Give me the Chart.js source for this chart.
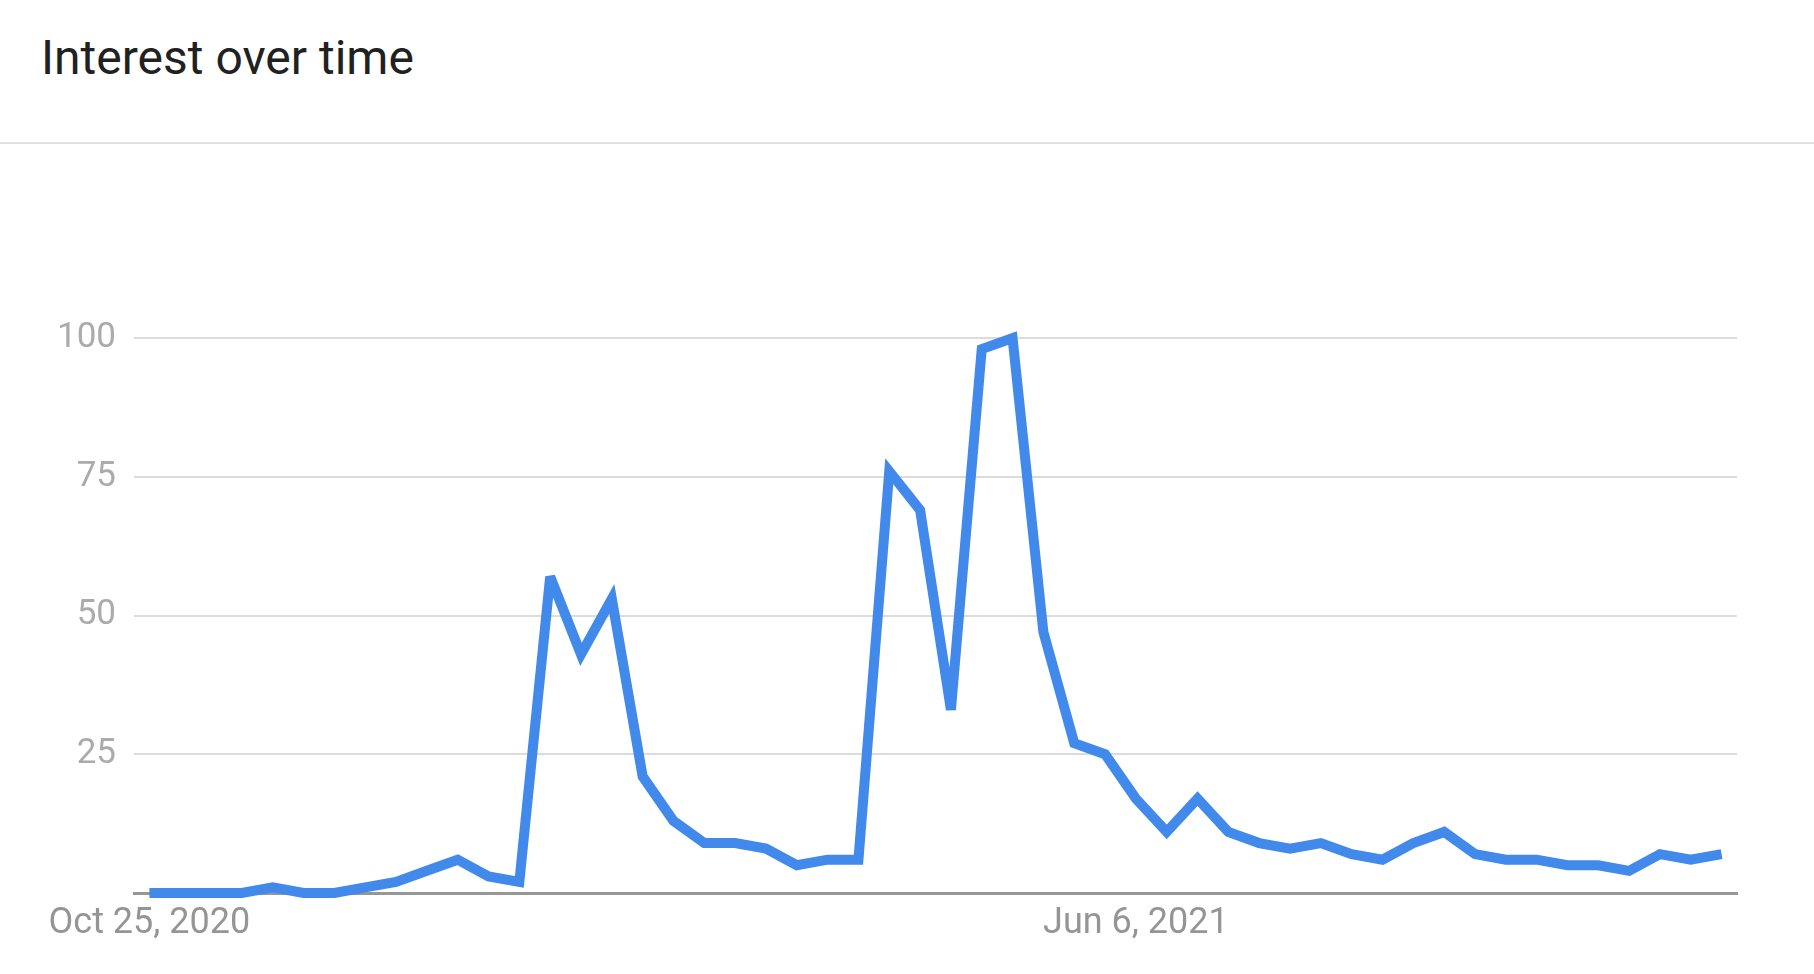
<!DOCTYPE html>
<html>
<head>
<meta charset="utf-8">
<title>Interest over time</title>
<script src="https://cdn.jsdelivr.net/npm/chart.js@4.4.1/dist/chart.umd.min.js"></script>
<style>
  html, body {
    margin: 0;
    padding: 0;
    background: #ffffff;
    width: 1814px;
    height: 974px;
    overflow: hidden;
    font-family: Roboto, "Noto Sans", Arial, sans-serif;
  }
  .header {
    position: relative;
    height: 142px;
    border-bottom: 2px solid #e0e0e0;
  }
  .header h1 {
    position: absolute;
    left: 41px;
    top: 29px;
    margin: 0;
    font-size: 48px;
    font-weight: 400;
    line-height: normal;
    color: #212121;
  }
  .chart-box {
    position: relative;
    width: 1814px;
    height: 830px;
  }
</style>
</head>
<body>
<div class="header"><h1>Interest over time</h1></div>
<div class="chart-box"><canvas id="chart"></canvas></div>

<script>
// weekly points, Oct 25, 2020 .. Oct 17, 2021
const weeks = [
  "Oct 25, 2020", "Nov 1, 2020", "Nov 8, 2020", "Nov 15, 2020", "Nov 22, 2020", "Nov 29, 2020",
  "Dec 6, 2020", "Dec 13, 2020", "Dec 20, 2020", "Dec 27, 2020", "Jan 3, 2021", "Jan 10, 2021",
  "Jan 17, 2021", "Jan 24, 2021", "Jan 31, 2021", "Feb 7, 2021", "Feb 14, 2021", "Feb 21, 2021",
  "Feb 28, 2021", "Mar 7, 2021", "Mar 14, 2021", "Mar 21, 2021", "Mar 28, 2021", "Apr 4, 2021",
  "Apr 11, 2021", "Apr 18, 2021", "Apr 25, 2021", "May 2, 2021", "May 9, 2021", "May 16, 2021",
  "May 23, 2021", "May 30, 2021", "Jun 6, 2021", "Jun 13, 2021", "Jun 20, 2021", "Jun 27, 2021",
  "Jul 4, 2021", "Jul 11, 2021", "Jul 18, 2021", "Jul 25, 2021", "Aug 1, 2021", "Aug 8, 2021",
  "Aug 15, 2021", "Aug 22, 2021", "Aug 29, 2021", "Sep 5, 2021", "Sep 12, 2021", "Sep 19, 2021",
  "Sep 26, 2021", "Oct 3, 2021", "Oct 10, 2021", "Oct 17, 2021"
];

const interest = [
  0, 0, 0, 0, 1, 0, 0, 1, 2, 4, 6, 3, 2,
  57, 43, 53, 21, 13, 9, 9, 8, 5, 6, 6,
  76, 69, 33, 98, 100, 47, 27, 25, 17,
  11, 17, 11, 9, 8, 9, 7, 6, 9, 11, 7,
  6, 6, 5, 5, 4, 7, 6, 7
];

// only these dates get a label under the axis
const xTickLabels = ["Oct 25, 2020", "Jun 6, 2021"];
const yTicks = [0, 25, 50, 75, 100];

// svg-like miter limit, sharp spikes get cut flat
const miterPlugin = {
  id: "miter",
  beforeDatasetsDraw(chart) {
    chart.ctx.save();
    chart.ctx.miterLimit = 4;
  },
  afterDatasetsDraw(chart) {
    chart.ctx.restore();
  },
};

let chart;

document.addEventListener("DOMContentLoaded", function () {
  const ctx = document.getElementById("chart").getContext("2d");
  chart = new Chart(ctx, {
    type: "line",
    data: {
      labels: weeks,
      datasets: [
        {
          label: "Interest",
          data: interest,
          borderColor: "#4189ea",
          borderWidth: 10,
          borderJoinStyle: "miter",
          pointRadius: 0,
          pointHoverRadius: 0,
          tension: 0,
          fill: false,
          clip: false,
        },
      ],
    },
    plugins: [miterPlugin],
    options: {
      responsive: true,
      maintainAspectRatio: false,
      animation: false,
      events: [],
      layout: {
        padding: { top: 194, right: 77, bottom: 0, left: 0 },
      },
      plugins: {
        legend: { display: false },
        tooltip: { enabled: false },
      },
      scales: {
        x: {
          offset: true,
          grid: { display: false, drawTicks: false },
          border: { display: true, color: "#979797", width: 3 },
          ticks: {
            autoSkip: false,
            maxRotation: 0,
            padding: 9,
            color: "#959595",
            font: { size: 36, family: "Roboto, 'Noto Sans', sans-serif" },
            callback: function (value, index) {
              const w = weeks[index];
              return xTickLabels.includes(w) ? w : "";
            },
          },
          afterFit: function (scale) {
            scale.height = 81;
          },
        },
        y: {
          min: yTicks[0],
          max: yTicks[yTicks.length - 1],
          afterBuildTicks: function (scale) {
            scale.ticks = yTicks.map((v) => ({ value: v }));
          },
          grid: {
            color: "#dcdcdc",
            lineWidth: 2,
            drawTicks: false,
          },
          border: { display: false },
          ticks: {
            padding: 18,
            color: "#ababab",
            font: { size: 35, family: "Roboto, 'Noto Sans', sans-serif" },
            callback: function (value) {
              return value === 0 ? "" : value;
            },
          },
          afterFit: function (scale) {
            scale.width = 134;
          },
        },
      },
    },
  });
});
</script>
</body>
</html>
